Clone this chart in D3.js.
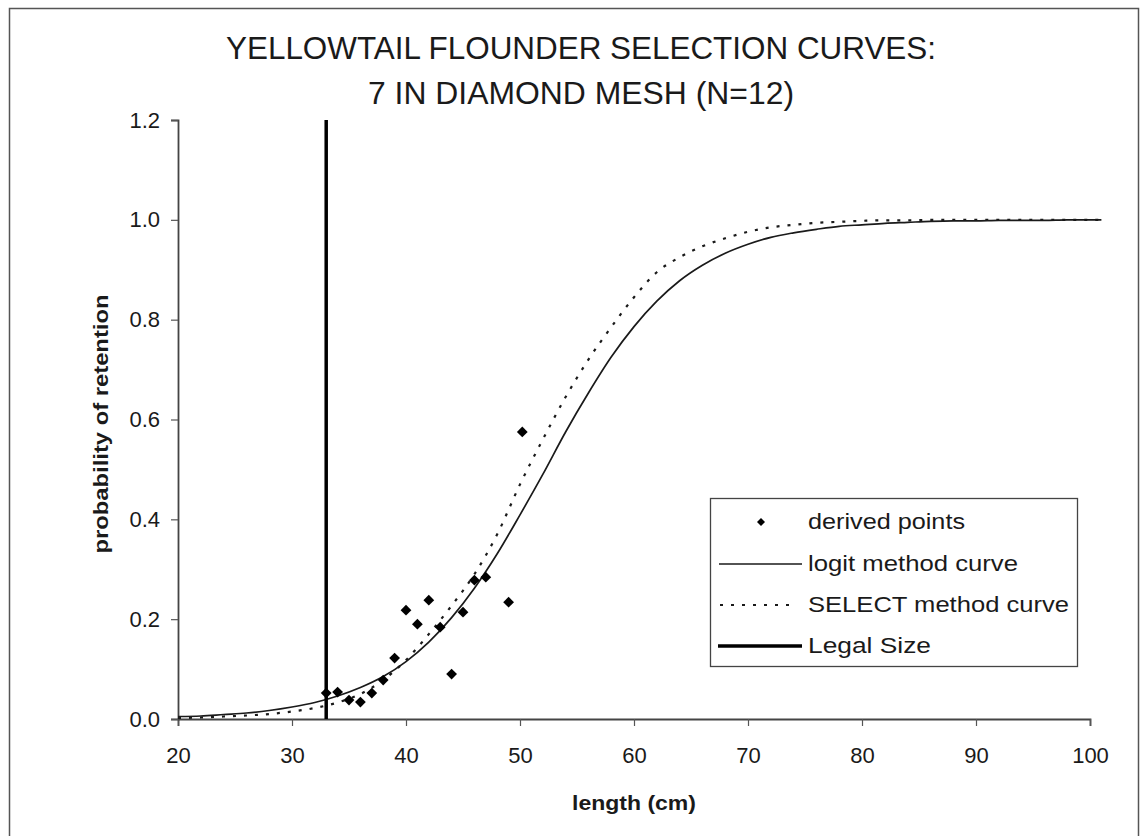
<!DOCTYPE html>
<html>
<head>
<meta charset="utf-8">
<script src="https://cdn.jsdelivr.net/npm/d3@7"></script>
<style>
  html, body { margin: 0; padding: 0; background: #fff; }
  svg { display: block; font-family: "Liberation Sans", Arial, sans-serif; }
</style>
</head>
<body>
<svg id="chart" width="1141" height="836"></svg>
<script>
// ---- data ----
const titleLines = ["YELLOWTAIL FLOUNDER SELECTION CURVES:", "7 IN DIAMOND MESH (N=12)"];
const xTicks = [20, 30, 40, 50, 60, 70, 80, 90, 100];
const yTicks = [0, 0.2, 0.4, 0.6, 0.8, 1.0, 1.2];

const pointLengths = [33, 34, 35, 36, 37, 38, 39, 40, 41, 42, 43, 44, 45, 46, 47, 49, 50.2];
const pointValues  = [0.052, 0.054, 0.038, 0.034, 0.052, 0.078, 0.122, 0.218, 0.19, 0.238, 0.184, 0.09, 0.214, 0.278, 0.284, 0.234, 0.575];

const curveLengths = [20, 22, 24, 26, 28, 30, 32, 34, 36, 38, 40, 42, 44, 46, 48, 50, 52, 54, 56, 58,
                      60, 62, 64, 66, 68, 70, 72, 74, 76, 78, 80, 82, 84, 86, 88, 90, 92, 94, 96, 98, 100, 101];
const logitValues  = [0.005, 0.006, 0.009, 0.012, 0.017, 0.024, 0.033, 0.046, 0.063, 0.085, 0.115, 0.154, 0.203, 0.262, 0.331, 0.409, 0.490, 0.575, 0.653, 0.725,
                      0.786, 0.837, 0.878, 0.909, 0.933, 0.951, 0.965, 0.974, 0.981, 0.987, 0.990, 0.993, 0.995, 0.997, 0.998, 0.998, 0.999, 0.999, 0.999, 1.0, 1.0, 1.0];
const selectValues = [0.002, 0.003, 0.005, 0.007, 0.010, 0.015, 0.022, 0.033, 0.050, 0.078, 0.118, 0.170, 0.227, 0.290, 0.370, 0.470, 0.560, 0.645, 0.720, 0.785,
                      0.845, 0.895, 0.925, 0.947, 0.963, 0.976, 0.985, 0.990, 0.994, 0.996, 0.998, 0.999, 0.999, 1.0, 1.0, 1.0, 1.0, 1.0, 1.0, 1.0, 1.0, 1.0];
const legalSize = [{x: 33, y: 0}, {x: 33, y: 1.2}];

const legendLabels = ["derived points", "logit method curve", "SELECT method curve", "Legal Size"];

// ---- layout ----
const svg = d3.select("#chart");
const ink = "#1a1a1a";

// outer frame
svg.append("rect")
  .attr("x", 9.5).attr("y", 8.5).attr("width", 1129).attr("height", 840)
  .attr("fill", "none").attr("stroke", "#555").attr("stroke-width", 1.5);

const x = d3.scaleLinear().domain([20, 100]).range([178, 1090]);
const y = d3.scaleLinear().domain([0, 1.2]).range([719, 120]);

// title (condensed, tall glyphs)
svg.append("g")
  .selectAll("text").data(titleLines).join("text")
  .attr("x", 581).attr("y", (d, i) => 59 + i * 45)
  .attr("text-anchor", "middle")
  .attr("font-size", 31)
  .attr("fill", ink)
  .attr("textLength", (d, i) => i === 0 ? 710 : 426)
  .attr("lengthAdjust", "spacingAndGlyphs")
  .text(d => d);

// axes
const xAxis = d3.axisBottom(x).tickValues(xTicks).tickSize(7).tickPadding(21).tickFormat(d3.format("d"));
const yAxis = d3.axisLeft(y).tickValues(yTicks).tickSize(7).tickPadding(11).tickFormat(d3.format(".1f"));

const gx = svg.append("g").attr("transform", `translate(0,${y(0)})`).call(xAxis);
const gy = svg.append("g").attr("transform", `translate(${x(20)},0)`).call(yAxis);
[gx, gy].forEach(g => {
  g.select(".domain").attr("stroke", "#444").attr("stroke-width", 1.8);
  g.selectAll(".tick line").attr("stroke", "#555").attr("stroke-width", 1.2);
  g.selectAll(".tick text").attr("font-size", 22).attr("fill", ink)
    .attr("font-family", "\"Liberation Sans\", Arial, sans-serif");
});

// axis titles
svg.append("text")
  .attr("x", 634).attr("y", 810)
  .attr("text-anchor", "middle").attr("font-size", 21).attr("font-weight", "bold").attr("fill", ink)
  .attr("textLength", 124).attr("lengthAdjust", "spacingAndGlyphs")
  .text("length (cm)");
svg.append("text")
  .attr("transform", `translate(108,424) rotate(-90)`)
  .attr("text-anchor", "middle").attr("font-size", 21).attr("font-weight", "bold").attr("fill", ink)
  .attr("textLength", 259).attr("lengthAdjust", "spacingAndGlyphs")
  .text("probability of retention");

// curves
const line = d3.line().x(d => x(d[0])).y(d => y(d[1])).curve(d3.curveMonotoneX);
svg.append("path")
  .datum(curveLengths.map((l, i) => [l, selectValues[i]]))
  .attr("d", line).attr("fill", "none").attr("stroke", ink)
  .attr("stroke-width", 2.2).attr("stroke-dasharray", "3,8");
svg.append("path")
  .datum(curveLengths.map((l, i) => [l, logitValues[i]]))
  .attr("d", line).attr("fill", "none").attr("stroke", ink).attr("stroke-width", 1.7);

// legal size
svg.append("path")
  .datum(legalSize)
  .attr("d", d3.line().x(d => x(d.x)).y(d => y(d.y)))
  .attr("stroke", "#000").attr("stroke-width", 3.5).attr("fill", "none");

// points
const diamond = d3.symbol().type(d3.symbolSquare).size(58);
svg.append("g").selectAll("path").data(pointLengths.map((l, i) => [l, pointValues[i]])).join("path")
  .attr("d", diamond)
  .attr("transform", d => `translate(${x(d[0])},${y(d[1])}) rotate(45)`)
  .attr("fill", "#000");

// legend
const lg = svg.append("g");
lg.append("rect").attr("x", 710.5).attr("y", 498.5).attr("width", 367).attr("height", 168)
  .attr("fill", "#fff").attr("stroke", "#444").attr("stroke-width", 1.3);
const rowY = [522, 564, 605, 646];
const legendTextLen = [157, 210, 261, 123];
lg.append("path").attr("d", d3.symbol().type(d3.symbolSquare).size(32))
  .attr("transform", `translate(761,${rowY[0]}) rotate(45)`).attr("fill", "#000");
lg.append("line").attr("x1", 719).attr("x2", 802).attr("y1", rowY[1]).attr("y2", rowY[1])
  .attr("stroke", ink).attr("stroke-width", 1.7);
lg.append("line").attr("x1", 720).attr("x2", 797).attr("y1", rowY[2]).attr("y2", rowY[2])
  .attr("stroke", ink).attr("stroke-width", 1.8).attr("stroke-dasharray", "3,8");
lg.append("line").attr("x1", 718).attr("x2", 802).attr("y1", rowY[3]).attr("y2", rowY[3])
  .attr("stroke", "#000").attr("stroke-width", 3.5);
lg.selectAll("text").data(legendLabels).join("text")
  .attr("x", 808)
  .attr("y", (d, i) => rowY[i] + 7)
  .attr("font-size", 22).attr("fill", ink)
  .attr("textLength", (d, i) => legendTextLen[i])
  .attr("lengthAdjust", "spacingAndGlyphs")
  .text(d => d);
</script>
</body>
</html>
